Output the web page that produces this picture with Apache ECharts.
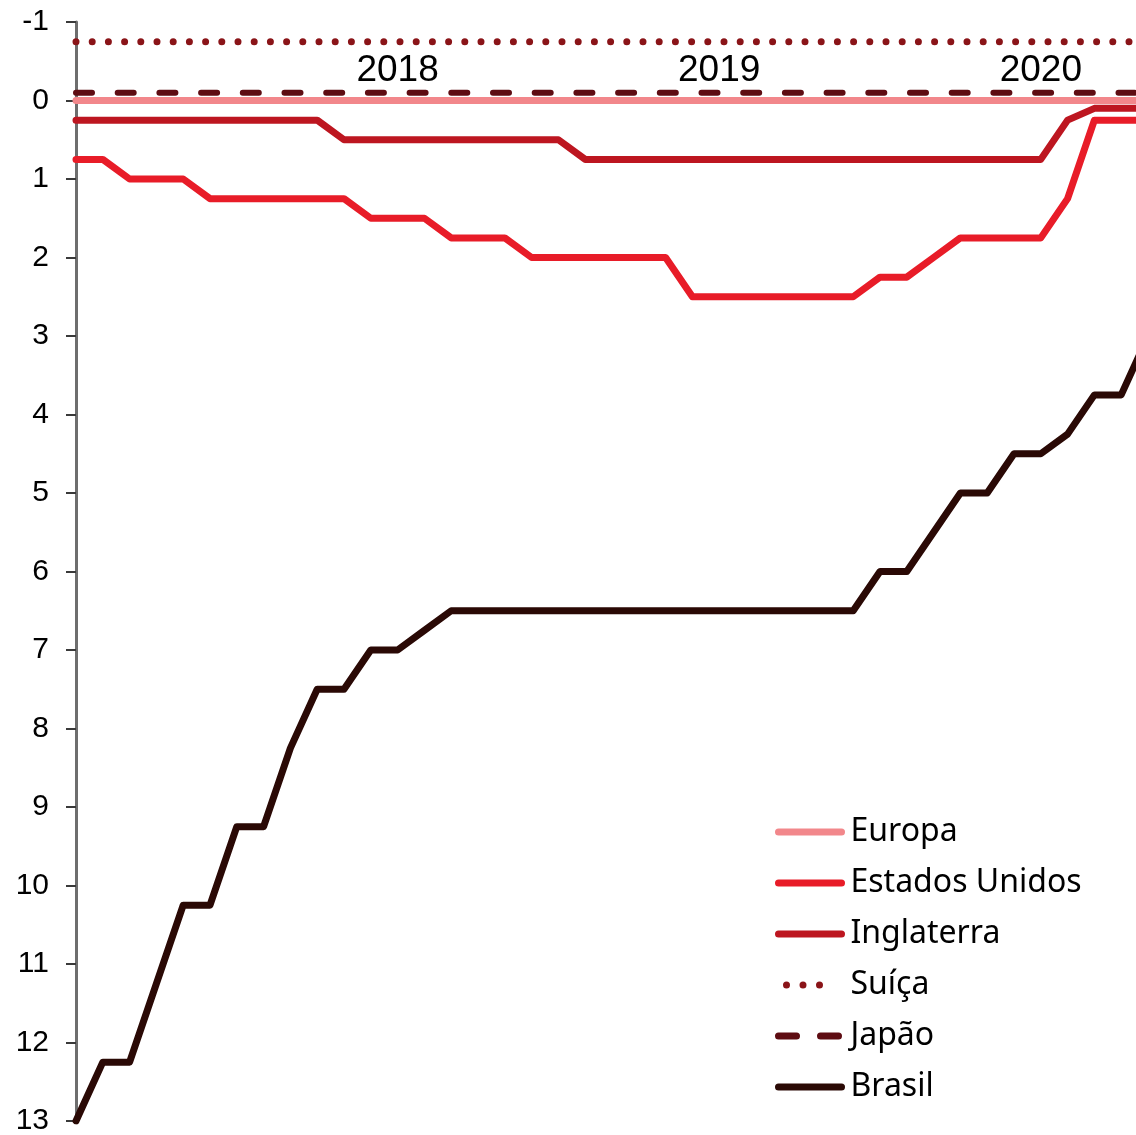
<!DOCTYPE html>
<html>
<head>
<meta charset="utf-8">
<title>Juros</title>
<script src="https://cdn.jsdelivr.net/npm/echarts@6/dist/echarts.min.js"></script>
<style>
  html, body { margin: 0; padding: 0; background: #fff; }
  #chart { width: 1136px; height: 1135px; }
</style>
</head>
<body>
<div id="chart"></div>
<script>
// meses: jan/2017 ate mai/2020
var months = [
  '2017-01','2017-02','2017-03','2017-04','2017-05','2017-06','2017-07','2017-08','2017-09','2017-10','2017-11','2017-12',
  '2018-01','2018-02','2018-03','2018-04','2018-05','2018-06','2018-07','2018-08','2018-09','2018-10','2018-11','2018-12',
  '2019-01','2019-02','2019-03','2019-04','2019-05','2019-06','2019-07','2019-08','2019-09','2019-10','2019-11','2019-12',
  '2020-01','2020-02','2020-03','2020-04','2020-05'
]

var europa = [
  0,0,0,0,0,0,0,0,0,0,0,0,
  0,0,0,0,0,0,0,0,0,0,0,0,
  0,0,0,0,0,0,0,0,0,0,0,0,
  0,0,0,0,0
]
var estadosUnidos = [
  0.75,0.75,1,1,1,1.25,1.25,1.25,1.25,1.25,1.25,1.5,
  1.5,1.5,1.75,1.75,1.75,2,2,2,2,2,2,2.5,
  2.5,2.5,2.5,2.5,2.5,2.5,2.25,2.25,2,1.75,1.75,1.75,
  1.75,1.25,0.25,0.25,0.25
]
var inglaterra = [
  0.25,0.25,0.25,0.25,0.25,0.25,0.25,0.25,0.25,0.25,0.5,0.5,
  0.5,0.5,0.5,0.5,0.5,0.5,0.5,0.75,0.75,0.75,0.75,0.75,
  0.75,0.75,0.75,0.75,0.75,0.75,0.75,0.75,0.75,0.75,0.75,0.75,
  0.75,0.25,0.1,0.1,0.1
]
var suica = [
  -0.75,-0.75,-0.75,-0.75,-0.75,-0.75,-0.75,-0.75,-0.75,-0.75,-0.75,-0.75,
  -0.75,-0.75,-0.75,-0.75,-0.75,-0.75,-0.75,-0.75,-0.75,-0.75,-0.75,-0.75,
  -0.75,-0.75,-0.75,-0.75,-0.75,-0.75,-0.75,-0.75,-0.75,-0.75,-0.75,-0.75,
  -0.75,-0.75,-0.75,-0.75,-0.75
]
var japao = [
  -0.1,-0.1,-0.1,-0.1,-0.1,-0.1,-0.1,-0.1,-0.1,-0.1,-0.1,-0.1,
  -0.1,-0.1,-0.1,-0.1,-0.1,-0.1,-0.1,-0.1,-0.1,-0.1,-0.1,-0.1,
  -0.1,-0.1,-0.1,-0.1,-0.1,-0.1,-0.1,-0.1,-0.1,-0.1,-0.1,-0.1,
  -0.1,-0.1,-0.1,-0.1,-0.1
]
var brasil = [
  13,12.25,12.25,11.25,10.25,10.25,9.25,9.25,8.25,7.5,7.5,7,
  7,6.75,6.5,6.5,6.5,6.5,6.5,6.5,6.5,6.5,6.5,6.5,
  6.5,6.5,6.5,6.5,6.5,6.5,6,6,5.5,5,5,4.5,
  4.5,4.25,3.75,3.75,3
]

var chart = echarts.init(document.getElementById('chart'))

function line(name, data, color, width, dash) {
  var s = {
    name: name,
    type: 'line',
    data: data,
    symbol: 'none',
    animation: false,
    lineStyle: { color: color, width: width, cap: 'round', join: 'round' },
    itemStyle: { color: color }
  }
  if (dash) s.lineStyle.type = dash
  return s
}

chart.setOption({
  grid: { left: 76, top: 22, right: -12, bottom: 14, outerBoundsMode: 'none', containLabel: false },
  legend: {
    orient: 'vertical',
    left: 775,
    top: 816,
    padding: 0,
    itemWidth: 63,
    itemHeight: 14,
    itemGap: 19,
    itemStyle: { opacity: 0 },
    lineStyle: { width: 7, cap: 'round' },
    textStyle: { fontFamily: 'Noto Sans', fontSize: 32, lineHeight: 32, color: '#000', padding: [0, 0, 0, 4] },
    data: [
      'Europa',
      'Estados Unidos',
      'Inglaterra',
      { name: 'Suíça', lineStyle: { type: [0, 16.5, 0, 16.5, 0, 200], dashOffset: -8 } },
      { name: 'Japão', lineStyle: { type: [18, 24], dashOffset: 0 } },
      'Brasil'
    ]
  },
  xAxis: {
    type: 'category',
    position: 'top',
    offset: -78.5,
    boundaryGap: false,
    data: months,
    axisLine: { show: false, onZero: false },
    axisTick: { show: false },
    axisLabel: {
      interval: function (index) { return index > 0 && index % 12 === 0 },
      formatter: function (v) { return v.slice(0, 4) },
      fontFamily: 'Liberation Sans',
      fontSize: 37,
      color: '#000',
      margin: 11
    },
    splitLine: { show: false }
  },
  yAxis: {
    type: 'value',
    inverse: true,
    min: -1,
    max: 13,
    interval: 1,
    axisLine: { show: true, lineStyle: { color: '#6e6e6e', width: 3 } },
    axisTick: { show: true, length: 10, lineStyle: { color: '#3a3a3a', width: 2 } },
    axisLabel: { fontFamily: 'Liberation Sans', fontSize: 30, color: '#000', margin: 27 },
    splitLine: { show: false }
  },
  series: [
    line('Europa', europa, '#f2878b', 7),
    line('Estados Unidos', estadosUnidos, '#e81c28', 7),
    line('Inglaterra', inglaterra, '#bd1620', 7),
    line('Suíça', suica, '#8a1418', 7, [0, 16.2]),
    line('Japão', japao, '#5e0c12', 6, [16, 25.7]),
    line('Brasil', brasil, '#2a0905', 7)
  ]
})
</script>
</body>
</html>
